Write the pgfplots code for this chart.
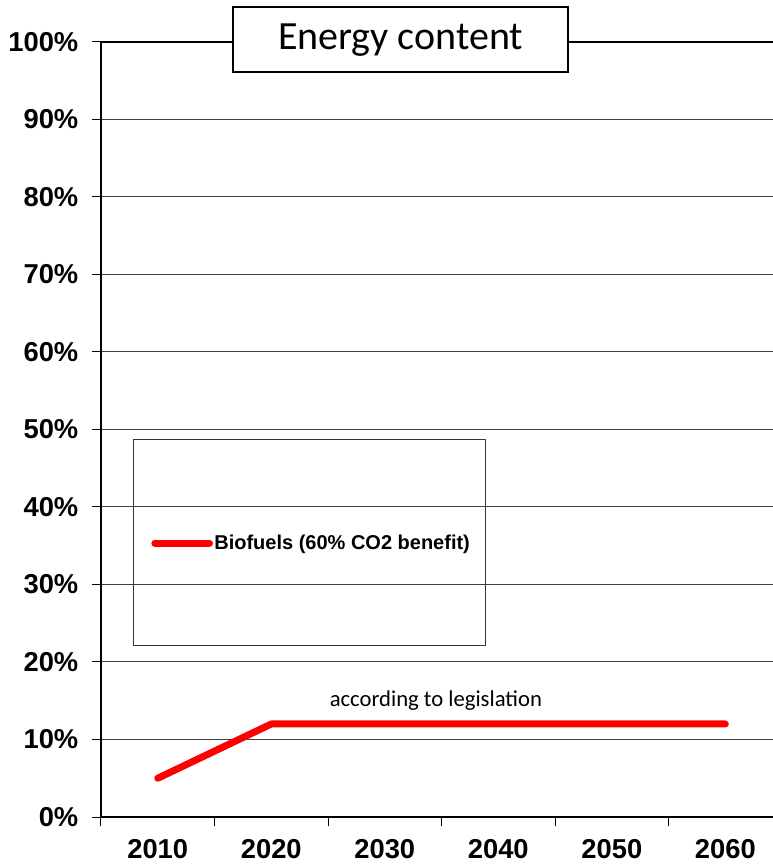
\documentclass[border=0pt]{standalone}
\usepackage{fontspec}
\setmainfont{Liberation Sans}
\newfontfamily\calib{Carlito}
\usepackage{pgfplots}
\pgfplotsset{compat=1.18}
\definecolor{lawred}{RGB}{255,0,0}

\begin{document}
\begin{tikzpicture}
\begin{axis}[
  scale only axis, width=504pt, height=581.25pt,
  xmin=-0.5, xmax=5.42, ymin=0, ymax=100,
  axis x line*=bottom, axis y line*=left,
  axis line style={black, line width=1.5pt, -},
  ytick={0,10,...,100},
  yticklabel={\pgfmathprintnumber{\tick}\%},
  ymajorgrids, grid style={black!75, line width=0.75pt},
  xtick={-0.5,0.5,...,4.5}, xticklabels={},
  extra x ticks={0,1,2,3,4,5},
  extra x tick labels={2010,2020,2030,2040,2050,2060},
  extra x tick style={major tick length=0pt, xticklabel style={yshift=-13pt}},
  tick align=outside, major tick length=6.5pt,
  tick style={line width=0.75pt, black},
  ticklabel style={font=\fontsize{20.5pt}{24pt}\selectfont\bfseries},
  yticklabel style={xshift=-7pt},
  /pgf/number format/assume math mode=true,
  clip=false,
  legend image code/.code={\draw[#1] (0pt,0pt) -- (41pt,0pt);},
  legend style={draw=none, fill=none, anchor=west, at={(axis cs:-0.059,35.35)},
    inner sep=0pt, nodes={inner sep=0pt},
    font=\fontsize{15pt}{18pt}\selectfont\bfseries,
    /tikz/every odd column/.style={column sep=1pt}},
  legend cell align=left,
]
\coordinate (O) at (rel axis cs:0,0);
% legend frame
\draw[black!80, line width=0.75pt] (axis cs:-0.218,22.19) rectangle (axis cs:2.883,48.77);
% top edge of the plot area
\draw[black, line width=1.5pt] (axis cs:-0.5,100) -- (axis cs:5.42,100);

\addplot[lawred, line width=5.25pt, line cap=round, line join=round]
  coordinates {(0,5) (1,12) (2,12) (3,12) (4,12) (5,12)};
\addlegendentry{Biofuels (60\% CO2 benefit)}

\node[font=\calib\fontsize{17pt}{20pt}\selectfont] at (axis cs:2.45,14.97) {according to legislation};
\node[draw=black, line width=1.1pt, fill=white, minimum width=251.25pt, minimum height=48.75pt,
  inner sep=0pt, font=\calib\fontsize{30pt}{36pt}\selectfont] at (axis cs:2.139,100.3) {Energy content};
\end{axis}
\pgfresetboundingbox
\path[use as bounding box] ([shift={(-75.75pt,-35.25pt)}]O) rectangle ([shift={(504pt,612.75pt)}]O);
\end{tikzpicture}
\end{document}
